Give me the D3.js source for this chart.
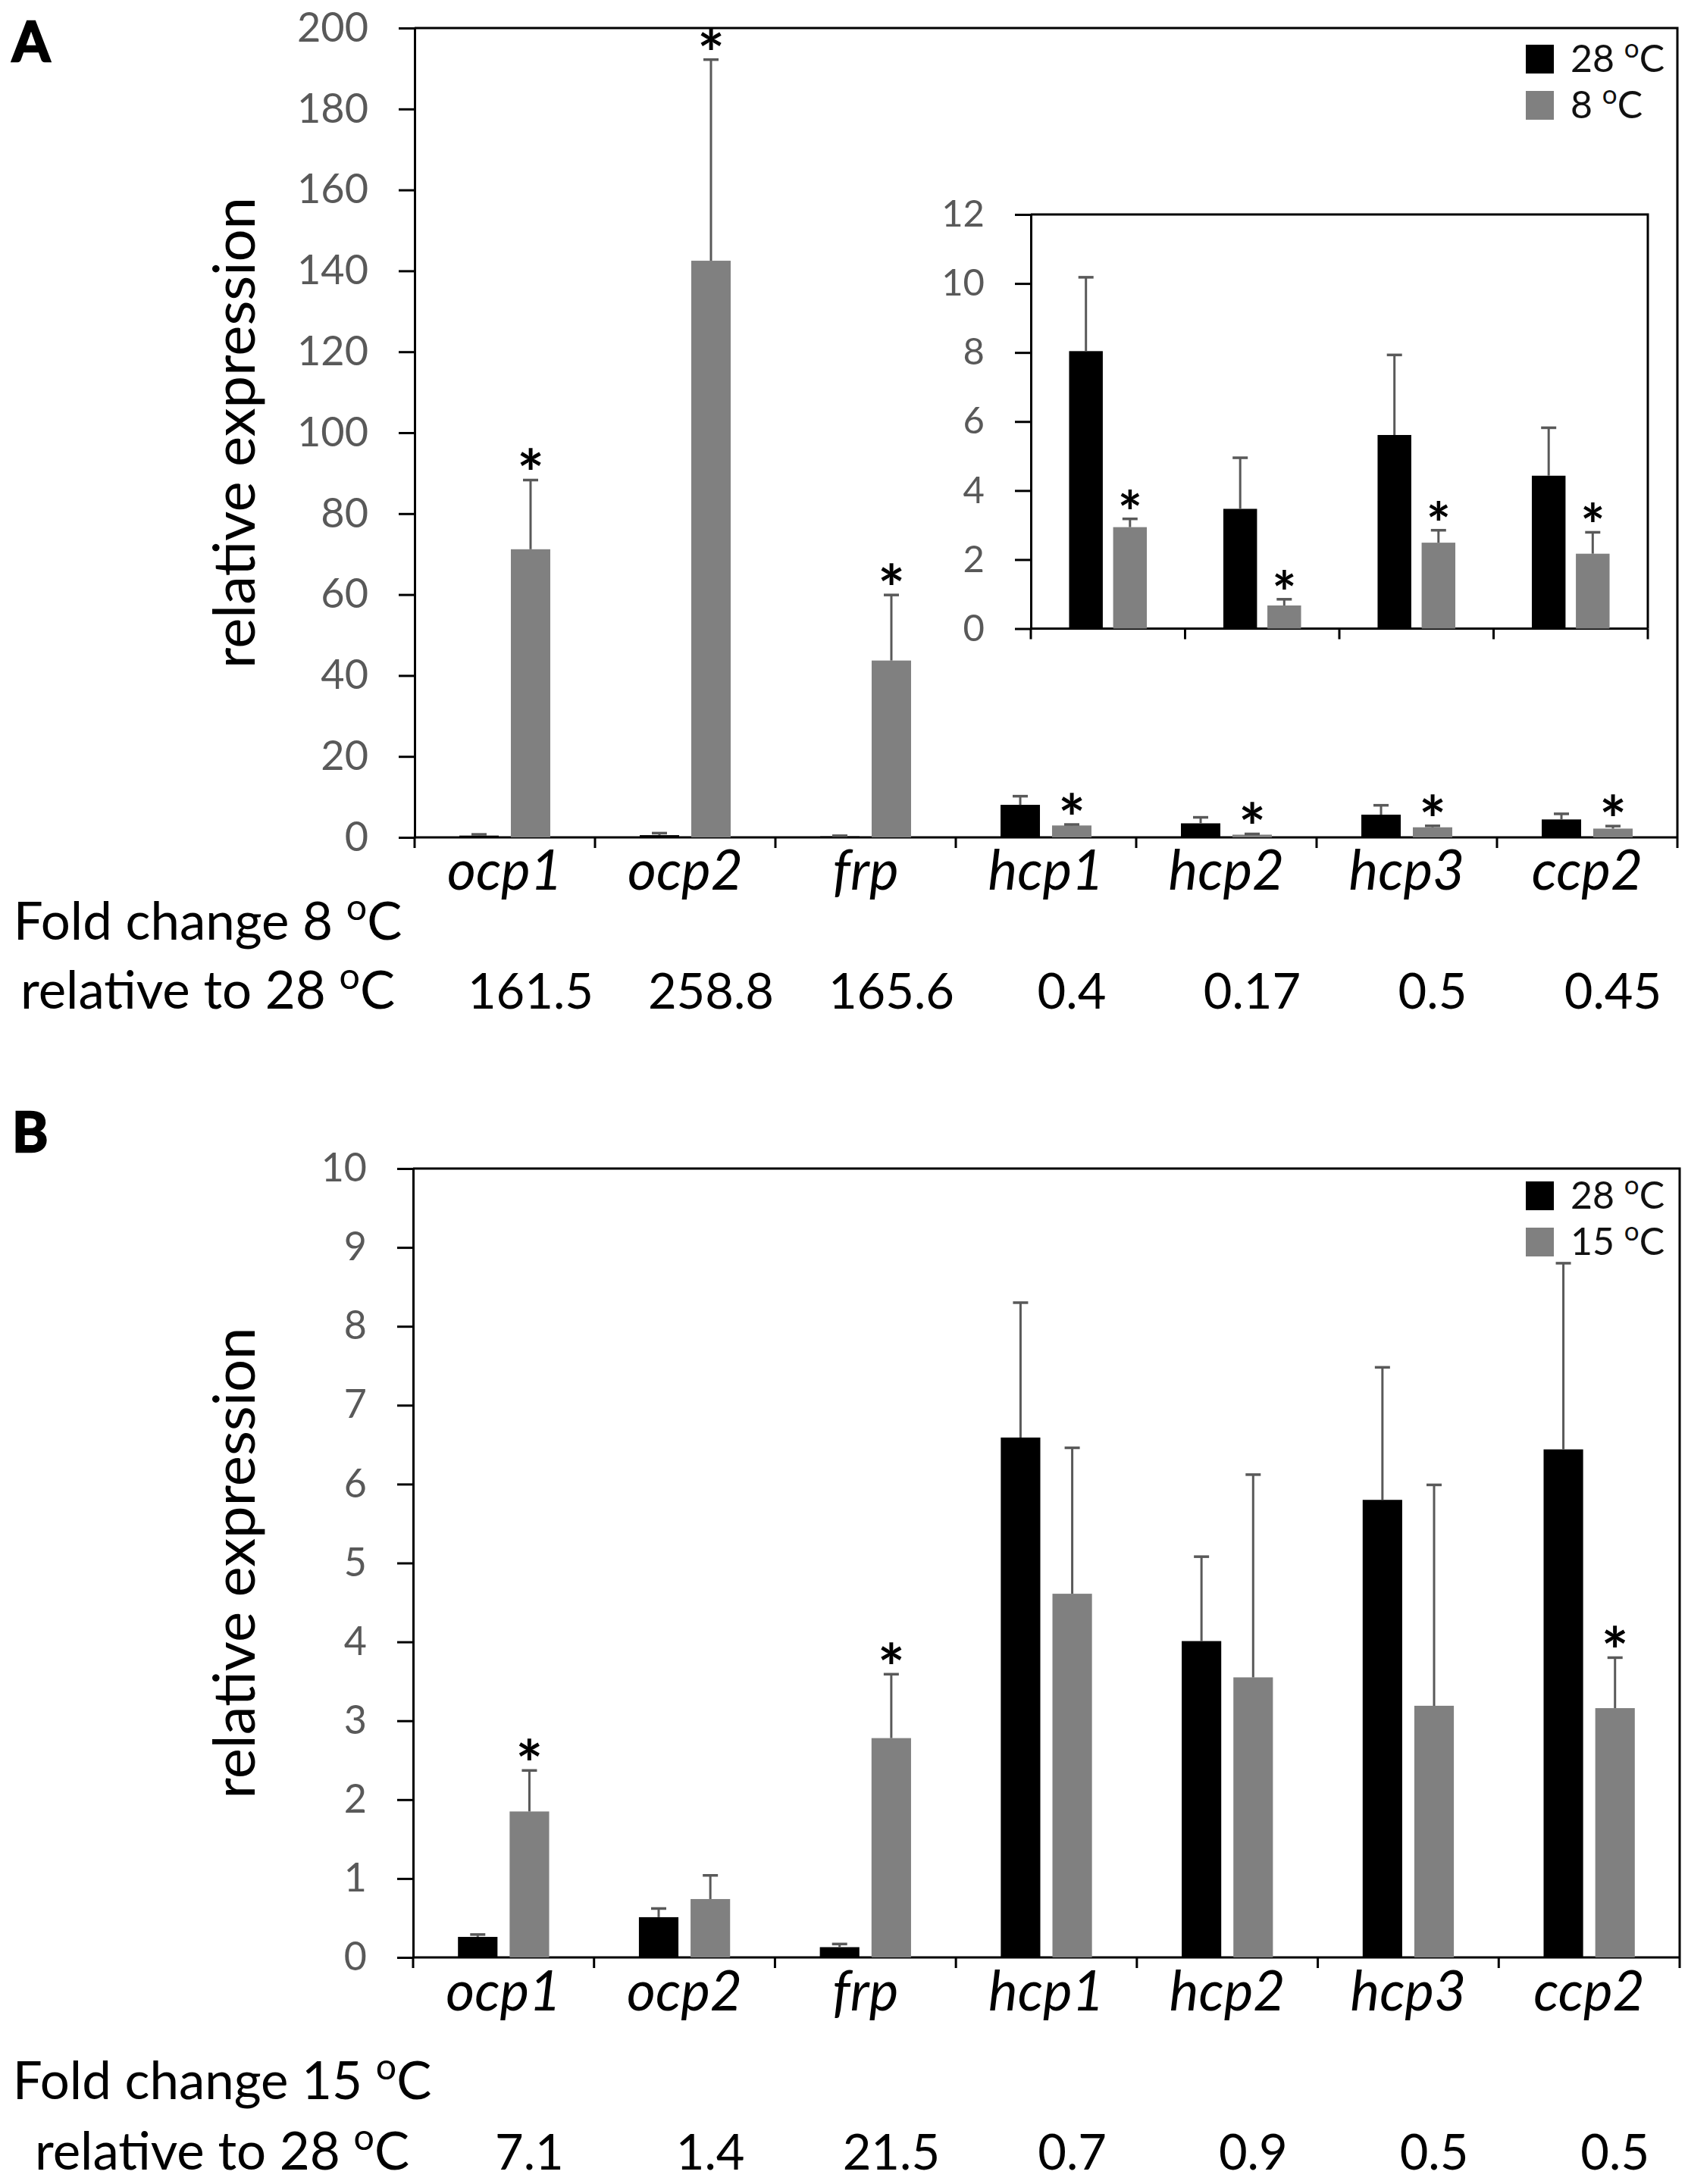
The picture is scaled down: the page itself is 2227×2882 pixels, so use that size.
<!DOCTYPE html>
<html>
<head>
<meta charset="utf-8">
<script src="https://cdn.jsdelivr.net/npm/d3@7"></script>
<style>
  body { margin: 0; background: #fff; }
  svg { display: block; }
  text { font-family: Lato, "Open Sans", sans-serif; }
</style>
</head>
<body>
<svg id="fig" width="2227" height="2882" viewBox="0 0 2227 2882"></svg>
<script>
// ---- data ----
const genes = ['ocp1', 'ocp2', 'frp', 'hcp1', 'hcp2', 'hcp3', 'ccp2'];
const insetGenes = ['hcp1', 'hcp2', 'hcp3', 'ccp2'];

// panel A: 28 vs 8 degC
const a28 = [0.44, 0.55, 0.26, 8.04, 3.47, 5.61, 4.43];
const a28Err = [0.3, 0.5, 0.15, 2.14, 1.48, 2.32, 1.39];
const a8 = [71.2, 142.5, 43.7, 2.94, 0.67, 2.49, 2.17];
const a8Err = [17.1, 49.7, 16.2, 0.24, 0.18, 0.36, 0.62];
const a8Sig = [true, true, true, true, true, true, true];
const foldA = ['161.5', '258.8', '165.6', '0.4', '0.17', '0.5', '0.45'];

// panel B: 28 vs 15 degC
const b28 = [0.26, 0.51, 0.13, 6.59, 4.01, 5.80, 6.44];
const b28Err = [0.03, 0.11, 0.04, 1.71, 1.07, 1.68, 2.36];
const b15 = [1.85, 0.74, 2.78, 4.61, 3.55, 3.19, 3.16];
const b15Err = [0.52, 0.30, 0.81, 1.85, 2.57, 2.80, 0.64];
const b15Sig = [true, false, true, false, false, false, true];
const foldB = ['7.1', '1.4', '21.5', '0.7', '0.9', '0.5', '0.5'];

const COLORS = ['#000000', '#808080'];
const ERR_COLOR = '#595959';
const TICK_COLOR = '#595959';

const svg = d3.select('#fig');

// "28 oC" with a raised small o
function degText(t, before, after, fs) {
  t.append('tspan').text(before);
  t.append('tspan').attr('font-size', fs * 0.7).attr('dy', -fs * 0.38).text('o');
  t.append('tspan').attr('dy', fs * 0.38).text(after);
}

function makeSeries(names, vals, errs, sigs) {
  return names.map((g, i) => ({ gene: g, v: vals[i], e: errs[i], sig: sigs ? sigs[i] : false }));
}

// bars + error bars + asterisks in one chart area
function drawBars(g, x, y, series, starSize, starDy) {
  const bw = x.bandwidth();
  const x1 = d3.scaleBand().domain(d3.range(series.length))
    .range([bw * 0.248, bw * 0.752]).paddingInner(0.235);

  series.forEach((data, si) => {
    const sg = g.append('g');
    const cx = d => x(d.gene) + x1(si) + x1.bandwidth() / 2;

    sg.selectAll('rect').data(data).join('rect')
      .attr('x', d => x(d.gene) + x1(si))
      .attr('width', x1.bandwidth())
      .attr('y', d => y(d.v))
      .attr('height', d => y(0) - y(d.v))
      .attr('fill', COLORS[si]);

    sg.selectAll('.err').data(data).join('line').attr('class', 'err')
      .attr('x1', cx).attr('x2', cx)
      .attr('y1', d => y(d.v)).attr('y2', d => y(d.v + d.e))
      .attr('stroke', ERR_COLOR).attr('stroke-width', 3);

    sg.selectAll('.cap').data(data).join('line').attr('class', 'cap')
      .attr('x1', d => cx(d) - 10).attr('x2', d => cx(d) + 10)
      .attr('y1', d => y(d.v + d.e)).attr('y2', d => y(d.v + d.e))
      .attr('stroke', ERR_COLOR).attr('stroke-width', 3.5);

    sg.selectAll('.star').data(data.filter(d => d.sig)).join('text').attr('class', 'star')
      .attr('x', cx)
      .attr('y', d => y(d.v + d.e) + starDy)
      .attr('text-anchor', 'middle')
      .attr('font-size', starSize)
      .attr('font-weight', 'bold')
      .attr('fill', '#000')
      .text('*');
  });
  return x1;
}

function drawFrame(g, x, y, left, right, top, bottom, tickFs, ticks, boundTick) {
  g.append('path')
    .attr('d', `M${left},${top}H${right}V${bottom}`)
    .attr('fill', 'none').attr('stroke', '#000').attr('stroke-width', 3);

  const ax = g.append('g')
    .attr('transform', `translate(${left},0)`)
    .call(d3.axisLeft(y).ticks(ticks).tickSize(21).tickPadding(40).tickSizeOuter(0));
  ax.select('.domain').attr('stroke', '#000').attr('stroke-width', 3);
  ax.selectAll('.tick line').attr('stroke', '#000').attr('stroke-width', 3);
  ax.selectAll('.tick text')
    .attr('font-family', 'Lato, "Open Sans", sans-serif')
    .attr('font-size', tickFs).attr('fill', TICK_COLOR);

  // x axis with ticks on category boundaries
  g.append('line')
    .attr('x1', left).attr('x2', right).attr('y1', bottom).attr('y2', bottom)
    .attr('stroke', '#000').attr('stroke-width', 3);
  g.selectAll('.bound').data(d3.range(x.domain().length + 1)).join('line').attr('class', 'bound')
    .attr('x1', i => left + i * x.step()).attr('x2', i => left + i * x.step())
    .attr('y1', bottom).attr('y2', bottom + boundTick)
    .attr('stroke', '#000').attr('stroke-width', 3);
}

function drawPanel(p) {
  const g = svg.append('g');
  const x = d3.scaleBand().domain(genes).range([p.left, p.right]);
  const y = d3.scaleLinear().domain([0, p.yMax]).range([p.bottom, p.top]);

  drawFrame(g, x, y, p.left, p.right, p.top, p.bottom, p.tickFs, p.ticks, 14);
  const x1 = drawBars(g, x, y, p.series, 84, 22);

  // panel letter
  g.append('text')
    .attr('x', 16).attr('y', p.top + p.letterDy)
    .attr('font-family', '"Liberation Sans", Arial, sans-serif')
    .attr('font-weight', 'bold').attr('font-size', 72)
    .attr('stroke', '#000').attr('stroke-width', 2.5)
    .text(p.letter);

  // y title
  g.append('text')
    .attr('transform', `translate(336,${(p.top + p.bottom) / 2 + p.titleShift}) rotate(-90)`)
    .attr('text-anchor', 'middle')
    .attr('font-size', 76)
    .attr('fill', '#000')
    .text('relative expression');

  // category labels
  g.selectAll('.cat').data(genes).join('text').attr('class', 'cat')
    .attr('x', d => x(d) + x.bandwidth() / 2)
    .attr('y', p.bottom + p.catDy)
    .attr('text-anchor', 'middle')
    .attr('font-size', 73).attr('font-style', 'italic')
    .text(d => d);

  // fold change rows
  const f1 = g.append('text')
    .attr('x', p.foldX).attr('y', p.bottom + p.foldDy1)
    .attr('text-anchor', 'middle').attr('font-size', 69);
  degText(f1, p.foldTitle, 'C', 69);
  const f2 = g.append('text')
    .attr('x', p.foldX).attr('y', p.bottom + p.foldDy2)
    .attr('text-anchor', 'middle').attr('font-size', 69);
  degText(f2, 'relative to 28 ', 'C', 69);

  g.selectAll('.fold').data(p.fold).join('text').attr('class', 'fold')
    .attr('x', (d, i) => x(genes[i]) + x1(1) + x1.bandwidth() / 2)
    .attr('y', p.bottom + p.foldDy2)
    .attr('text-anchor', 'middle')
    .attr('font-size', 65)
    .text(d => d);

  // legend
  const lg = g.append('g');
  p.legend.forEach((name, i) => {
    lg.append('rect')
      .attr('x', 2013).attr('y', p.top + p.legDy + i * 61)
      .attr('width', 37).attr('height', 38)
      .attr('fill', COLORS[i]);
    const t = lg.append('text')
      .attr('x', 2072).attr('y', p.top + p.legDy + i * 61 + 36)
      .attr('font-size', 50).attr('fill', '#111');
    degText(t, name + ' ', 'C', 50);
  });
  return g;
}

// ---- panel A ----
const gA = drawPanel({
  letter: 'A', letterDy: 44,
  left: 547, right: 2213, top: 37, bottom: 1105, yMax: 200, ticks: 10, tickFs: 54,
  titleShift: 0, catDy: 69, foldDy1: 135, foldDy2: 226, foldX: 274,
  foldTitle: 'Fold change 8 ', fold: foldA,
  legend: ['28', '8'], legDy: 22,
  series: [makeSeries(genes, a28, a28Err), makeSeries(genes, a8, a8Err, a8Sig)]
});

// inset (zoom on the hcp / ccp genes)
(function drawInset() {
  const left = 1360, right = 2174, top = 283, bottom = 829.5;
  const g = gA.append('g');
  g.append('rect').attr('x', left).attr('y', top)
    .attr('width', right - left).attr('height', bottom - top).attr('fill', '#fff');
  const x = d3.scaleBand().domain(insetGenes).range([left, right]);
  const y = d3.scaleLinear().domain([0, 12]).range([bottom, top]);
  const idx = insetGenes.map(gn => genes.indexOf(gn));
  const s28 = makeSeries(insetGenes, idx.map(i => a28[i]), idx.map(i => a28Err[i]));
  const s8 = makeSeries(insetGenes, idx.map(i => a8[i]), idx.map(i => a8Err[i]), idx.map(i => a8Sig[i]));
  drawFrame(g, x, y, left, right, top, bottom, 49, 6, 14);
  drawBars(g, x, y, [s28, s8], 76, 19);
})();

// ---- panel B ----
drawPanel({
  letter: 'B', letterDy: -22,
  left: 545, right: 2216, top: 1542, bottom: 2583, yMax: 10, ticks: 10, tickFs: 52,
  titleShift: 0, catDy: 70, foldDy1: 187, foldDy2: 280, foldX: 293,
  foldTitle: 'Fold change 15 ', fold: foldB,
  legend: ['28', '15'], legDy: 17,
  series: [makeSeries(genes, b28, b28Err), makeSeries(genes, b15, b15Err, b15Sig)]
});
</script>
</body>
</html>
